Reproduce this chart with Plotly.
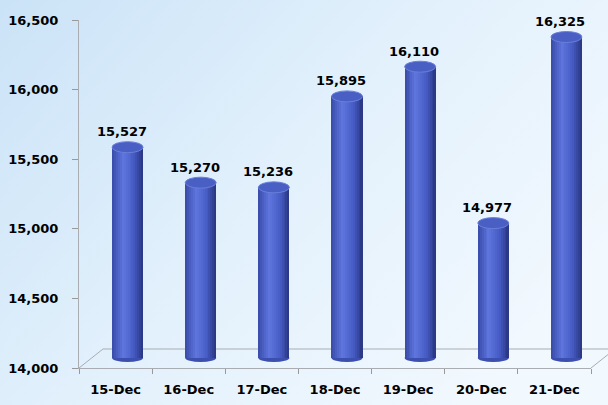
import base64
import plotly.graph_objects as go

# ---- data ----
categories = ["15-Dec", "16-Dec", "17-Dec", "18-Dec", "19-Dec", "20-Dec", "21-Dec"]
values = [15527, 15270, 15236, 15895, 16110, 14977, 16325]
y_ticks = [14000, 14500, 15000, 15500, 16000, 16500]

BASE = 14000
W, H = 608, 405
L, R, T, B = 79, 17, 20, 37
PW, PH = W - L - R, H - T - B
FONT = "DejaVu Sans"

# background gradient (style only)
svg = (
    '<svg xmlns="http://www.w3.org/2000/svg" width="608" height="405">'
    '<defs><linearGradient id="g" x1="0" y1="0" x2="1" y2="0.6">'
    '<stop offset="0" stop-color="#cbe3f7"/>'
    '<stop offset="0.55" stop-color="#e3f1fc"/>'
    '<stop offset="1" stop-color="#f1f8fe"/>'
    '</linearGradient></defs>'
    '<rect width="608" height="405" fill="url(#g)"/></svg>'
)
bg_src = "data:image/svg+xml;base64," + base64.b64encode(svg.encode()).decode()

fig = go.Figure()

# invisible trace to anchor the front axes
fig.add_trace(go.Scatter(x=categories, y=values, mode="markers", marker=dict(opacity=0),
                         hoverinfo="skip", showlegend=False, xaxis="x", yaxis="y"))

# cylinder body made from overlapping strips (shading)
stops = [(0.0, (56, 74, 168)), (0.35, (94, 118, 222)), (0.7, (70, 92, 196)), (1.0, (40, 53, 128))]


def shade(t):
    for (t0, c0), (t1, c1) in zip(stops[:-1], stops[1:]):
        if t0 <= t <= t1:
            f = (t - t0) / (t1 - t0)
            return "rgb(%d,%d,%d)" % tuple(round(a + (b - a) * f) for a, b in zip(c0, c1))
    return "rgb(%d,%d,%d)" % stops[-1][1]


BW = 0.424
N = 16
for k in range(N):
    left = -BW / 2 + k * BW / N
    fig.add_trace(go.Bar(
        x=categories, y=[v - BASE for v in values], base=BASE,
        width=BW / 2 - left, offset=left,
        marker=dict(color=shade((k + 0.5) / N), line=dict(width=0)),
        xaxis="x2", yaxis="y2", hoverinfo="skip", showlegend=False,
    ))

shapes = []
for i, v in enumerate(values):
    # rounded bottom
    shapes.append(dict(type="circle", xref="x2", yref="y2", xsizemode="pixel", ysizemode="pixel",
                       xanchor=i, yanchor=BASE, x0=-15.5, x1=15.5, y0=-4, y1=4,
                       fillcolor="#3c4fae", line=dict(width=0), layer="below"))
    # top cap
    shapes.append(dict(type="circle", xref="x2", yref="y2", xsizemode="pixel", ysizemode="pixel",
                       xanchor=i, yanchor=v, x0=-15.5, x1=15.5, y0=-5.5, y1=5.5,
                       fillcolor="#4a5fc3", line=dict(width=1, color="#6a7fda"), layer="above"))


def px(xp):
    return (xp - L) / PW


def py(yp):
    return (H - B - yp) / PH


floor_col = "#a9adb2"
shapes += [
    dict(type="line", xref="paper", yref="paper", x0=px(79), y0=py(368), x1=px(103), y1=py(349),
         line=dict(color=floor_col, width=1), layer="below"),
    dict(type="line", xref="paper", yref="paper", x0=px(103), y0=py(349), x1=px(620), y1=py(349),
         line=dict(color=floor_col, width=1), layer="below"),
    dict(type="line", xref="paper", yref="paper", x0=px(591), y0=py(368), x1=px(615), y1=py(349),
         line=dict(color=floor_col, width=1), layer="below"),
]

annotations = [
    dict(x=c, y=v, xref="x2", yref="y2", text=f"{v:,}", showarrow=False,
         yanchor="bottom", yshift=6, xshift=-6,
         font=dict(family=FONT, size=13, color="#000", weight="bold"))
    for c, v in zip(categories, values)
]

# y2 mapping for the depth offset of the cylinders
y2_lo = BASE - 10 / 0.13806
y2_hi = y2_lo + PH / 0.13806
xshift_units = 12 / (PW / 7)

fig.update_layout(
    width=W, height=H,
    margin=dict(l=L, r=R, t=T, b=B, pad=0, autoexpand=False),
    paper_bgcolor="#e4f1fc", plot_bgcolor="rgba(0,0,0,0)",
    barmode="overlay", bargap=0,
    showlegend=False,
    images=[dict(source=bg_src, xref="paper", yref="paper", x=-L / PW, y=1 + T / PH,
                 sizex=W / PW, sizey=H / PH, xanchor="left", yanchor="top",
                 sizing="stretch", layer="below")],
    shapes=shapes,
    annotations=annotations,
    xaxis=dict(type="category", categoryorder="array", categoryarray=categories,
               range=[-0.5, 6.5], tickson="boundaries", ticks="outside", ticklen=5,
               tickcolor="#999", showline=True, linecolor="#a9adb2", linewidth=1,
               showgrid=False, zeroline=False, fixedrange=True, automargin=False,
               tickfont=dict(family=FONT, size=13, color="#000", weight="bold"),
               ticklabelstandoff=9),
    yaxis=dict(range=[14000, 16500], tickvals=y_ticks, tickformat=",", ticks="outside",
               ticklen=6, tickcolor="#999", showline=True, linecolor="#a9adb2", linewidth=1,
               showgrid=False, zeroline=False, automargin=False,
               tickfont=dict(family=FONT, size=13, color="#000", weight="bold"),
               ticklabelstandoff=11),
    xaxis2=dict(type="category", categoryorder="array", categoryarray=categories,
                overlaying="x", range=[-0.5 - xshift_units, 6.5 - xshift_units], visible=False),
    yaxis2=dict(overlaying="y", range=[y2_lo, y2_hi], visible=False),
)

fig.write_html("out.html")
